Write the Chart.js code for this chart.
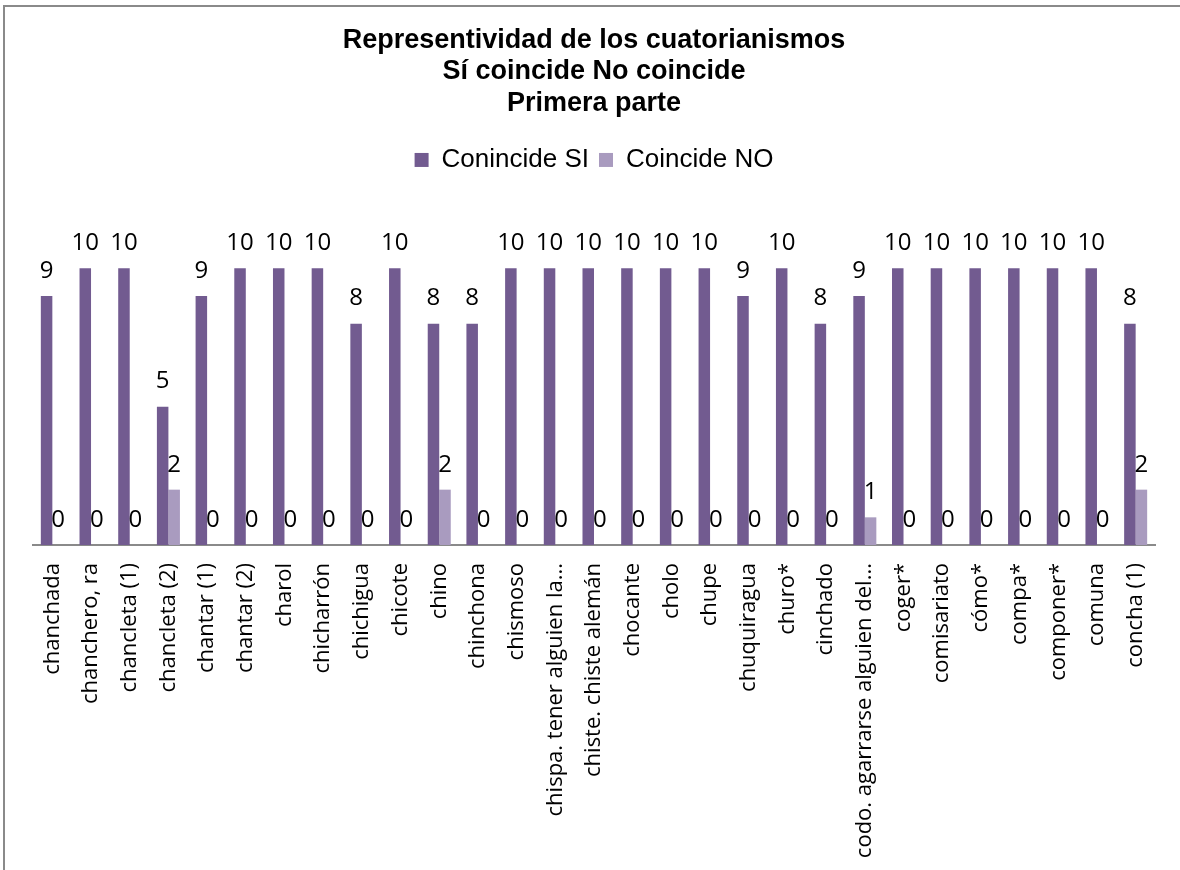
<!DOCTYPE html>
<html>
<head>
<meta charset="utf-8">
<script src="https://cdn.jsdelivr.net/npm/chart.js@4.4.1/dist/chart.umd.min.js"></script>
<style>
  html, body { margin: 0; padding: 0; background: #fff; overflow: hidden; width: 1180px; height: 870px; }
  #frame { position: absolute; left: 3px; top: 5px; width: 1300px; height: 1000px;
           border-left: 2px solid #8a8a8a; border-top: 2px solid #8a8a8a; box-sizing: border-box; }
  #wrap { position: absolute; left: 3px; top: 5px; width: 1180px; height: 865px; }
</style>
</head>
<body>
<div id="frame"></div>
<div id="wrap"><canvas id="c" width="1180" height="865"></canvas></div>
<script>
const categories = ['chanchada','chanchero, ra','chancleta (1)','chancleta (2)','chantar (1)','chantar (2)','charol','chicharrón','chichigua','chicote','chino','chinchona','chismoso','chispa. tener alguien la...','chiste. chiste alemán','chocante','cholo','chupe','chuquiragua','churo*','cinchado','codo. agarrarse alguien del...','coger*','comisariato','cómo*','compa*','componer*','comuna','concha (1)'];
const coincideSi = [9,10,10,5,9,10,10,10,8,10,8,8,10,10,10,10,10,10,9,10,8,9,10,10,10,10,10,10,8];
const coincideNo = [0,0,0,2,0,0,0,0,0,0,2,0,0,0,0,0,0,0,0,0,0,1,0,0,0,0,0,0,2];
const titleLines = ['Representividad de los cuatorianismos','Sí coincide No coincide','Primera parte'];
const seriesNames = ['Conincide SI','Coincide NO'];

const dataLabels = {
  id: 'dataLabels',
  afterDatasetsDraw(chart) {
    const ctx = chart.ctx;
    ctx.save();
    ctx.font = '24px "Open Sans", sans-serif';
    ctx.fillStyle = '#000';
    ctx.textAlign = 'center';
    ctx.textBaseline = 'middle';
    chart.data.datasets.forEach((ds, i) => {
      chart.getDatasetMeta(i).data.forEach((el, j) => {
        ctx.fillText(String(ds.data[j]), el.x, el.y - 25);
      });
    });
    ctx.restore();
  }
};
const legendSpace = {
  id: 'legendSpace',
  beforeInit(chart) {
    const orig = chart.legend.fit;
    chart.legend.fit = function () { orig.call(this); this.height += 30; };
  }
};

new Chart(document.getElementById('c'), {
  type: 'bar',
  data: {
    labels: categories,
    datasets: [
      { label: seriesNames[0], data: coincideSi, backgroundColor: '#725B90', categoryPercentage: 0.595, barPercentage: 1.0 },
      { label: seriesNames[1], data: coincideNo, backgroundColor: '#A99BBF', categoryPercentage: 0.595, barPercentage: 1.0 }
    ]
  },
  options: {
    responsive: false,
    animation: false,
    layout: { padding: { left: 30, right: 28, top: 0, bottom: 0 } },
    plugins: {
      title: {
        display: true,
        text: titleLines,
        color: '#000',
        font: { family: '"Liberation Sans", Arial, sans-serif', size: 27, weight: 'bold', lineHeight: 1.16 },
        padding: { top: 20, bottom: 18 }
      },
      legend: {
        display: true,
        labels: {
          color: '#000',
          font: { family: '"Liberation Sans", Arial, sans-serif', size: 26 },
          boxWidth: 14, boxHeight: 14, padding: 10
        }
      },
      tooltip: { enabled: false }
    },
    scales: {
      x: {
        grid: { display: false, drawTicks: false },
        border: { display: true, color: '#8a8a8a', width: 2 },
        ticks: {
          autoSkip: false, maxRotation: 90, minRotation: 90, padding: 18,
          color: '#000', font: { family: '"Open Sans", sans-serif', size: 22 }
        },
        afterFit(scale) { scale.height = 325; }
      },
      y: { display: false, min: 0, max: 12 }
    }
  },
  plugins: [dataLabels, legendSpace]
});
</script>
</body>
</html>
